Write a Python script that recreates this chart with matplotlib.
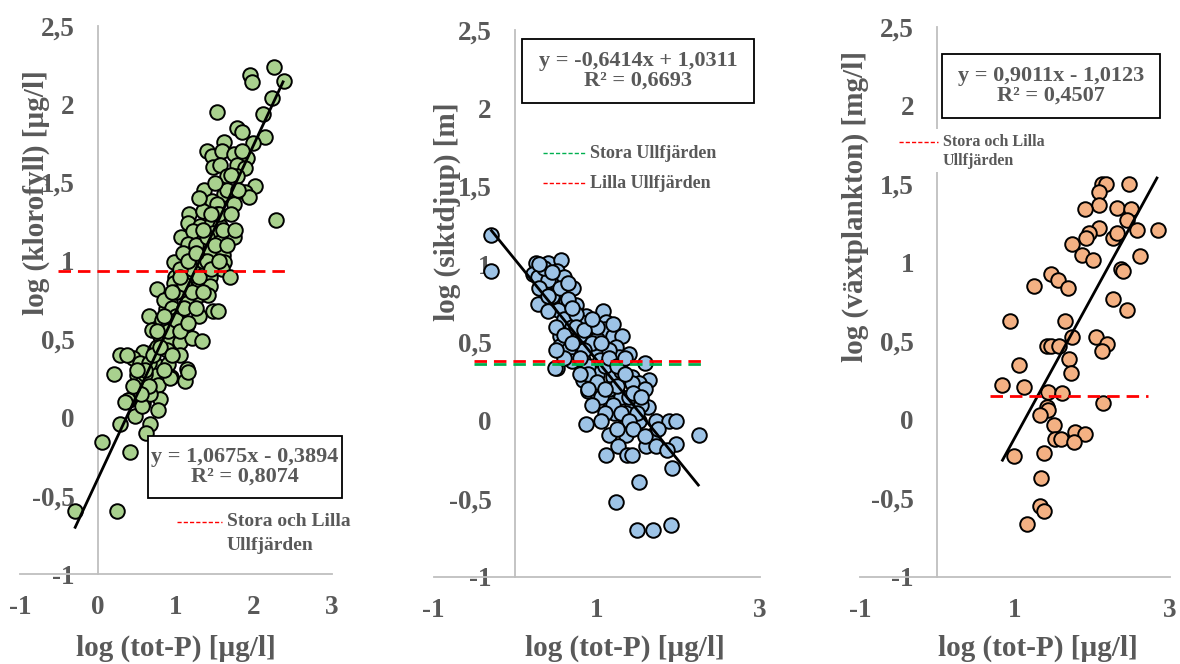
import matplotlib
matplotlib.use("Agg")
import matplotlib.pyplot as plt
from matplotlib.patches import Rectangle
from matplotlib.lines import Line2D

plt.rcParams['font.family'] = ['Liberation Serif', 'DejaVu Serif']
plt.rcParams['font.weight'] = 'bold'

W, H = 1180, 664
GREY = '#595959'
AXC = '#BFBFBF'

# ── data ──────────────────────────────────────────────────────────────────
# panel 1: log(tot-P) vs log(klorofyll)
klo_x = [2.25, 1.95, 1.97, 2.38, 2.23, 2.12, 1.53, 1.78, 1.84, 2.14, 1.99, 1.62, 1.40, 1.46,
         1.59, 1.74, 1.91, 1.48, 1.56, 1.78, 1.89, 1.65, 1.78, 2.01, 1.36, 1.61, 1.89, 1.93,
         1.46, 1.53, 1.74, 1.17, 1.35, 1.52, 2.28, 1.16, 1.31, 1.46, 1.56, 1.07, 1.22, 1.48,
         1.74, 1.16, 1.33, 1.56, 1.24, 1.44, 1.60, 0.97, 1.18, 1.31, 1.48, 1.61, 1.59, 1.69,
         0.99, 1.09, 1.29, 1.44, 0.76, 1.09, 0.97, 1.14, 1.44, 0.92, 1.14, 1.29, 1.41, 0.87,
         1.05, 0.65, 0.82, 0.97, 1.14, 1.29, 1.48, 1.54, 0.69, 0.86, 1.01, 0.80, 0.92, 1.05,
         1.20, 1.33, 0.58, 0.73, 0.88, 1.05, 0.28, 0.45, 0.54, 0.73, 0.90, 1.14, 0.21, 0.50,
         0.71, 0.94, 1.12, 0.56, 0.77, 0.40, 0.58, 0.80, 0.67, 0.77, 0.47, 0.28, 0.67, 0.62,
         0.05, 0.41, -0.30, 0.24, 0.37, 1.16, 0.92, 0.56, 0.39, 0.85, 1.00, 1.10, 0.95, 1.20,
         1.05, 1.25, 1.35, 1.00, 0.75, 0.65, 0.60, 1.40, 1.55, 1.65,
         0.70, 0.80, 0.90, 1.00, 1.10, 1.20, 1.30, 1.40, 1.50, 1.60, 1.70, 1.80, 0.75, 0.85,
         0.95, 1.05, 1.15, 1.25, 1.35, 1.45, 0.60, 0.65, 0.55, 0.50, 0.45, 0.35, 0.85, 0.95,
         1.05, 1.15, 1.25, 1.35, 1.45, 1.55, 1.65, 1.75, 1.70, 1.85, 1.50, 1.30]
klo_y = [2.24, 2.19, 2.14, 2.15, 2.04, 1.94, 1.95, 1.85, 1.82, 1.79, 1.75, 1.76, 1.70, 1.67,
         1.70, 1.68, 1.66, 1.60, 1.61, 1.61, 1.59, 1.54, 1.54, 1.48, 1.45, 1.43, 1.44, 1.41,
         1.38, 1.36, 1.36, 1.30, 1.32, 1.30, 1.26, 1.24, 1.22, 1.24, 1.22, 1.15, 1.19, 1.18,
         1.15, 1.11, 1.12, 1.12, 1.07, 1.06, 1.04, 0.99, 1.02, 0.98, 0.96, 0.99, 0.95, 0.90,
         0.90, 0.92, 0.87, 0.90, 0.82, 1.05, 0.86, 0.90, 0.84, 0.74, 0.73, 0.78, 0.78, 0.69,
         0.68, 0.65, 0.62, 0.61, 0.59, 0.65, 0.68, 0.68, 0.56, 0.56, 0.57, 0.52, 0.49, 0.48,
         0.51, 0.49, 0.42, 0.43, 0.43, 0.40, 0.40, 0.38, 0.35, 0.34, 0.34, 0.31, 0.28, 0.27,
         0.27, 0.26, 0.23, 0.22, 0.21, 0.11, 0.09, 0.12, 0.15, 0.05, 0.01, -0.04, -0.04, -0.10,
         -0.16, -0.22, -0.60, -0.60, 0.40, 0.29, 0.25, 0.07, 0.11, 0.75, 0.80, 0.85, 0.70, 0.95,
         0.95, 1.10, 1.00, 0.65, 0.45, 0.35, 0.28, 1.15, 1.30, 1.45,
         0.40, 0.45, 0.55, 0.62, 0.70, 0.80, 0.90, 1.00, 1.10, 1.20, 1.30, 1.45, 0.55, 0.65,
         0.80, 0.90, 1.00, 1.05, 1.20, 1.30, 0.30, 0.20, 0.15, 0.30, 0.20, 0.10, 0.30, 0.40,
         0.55, 0.60, 0.70, 0.80, 0.95, 1.00, 1.10, 1.20, 1.55, 1.70, 1.50, 1.40]
klo_ref_x = [-0.51, 2.46]
klo_ref_y = [0.935, 0.935]
klo_coef = (1.0675, -0.3894)
klo_eq = ["y = 1,0675x - 0,3894", "R² = 0,8074"]

# panel 2: log(tot-P) vs log(siktdjup)
sik_x = [-0.30, -0.30, 0.26, 0.40, 0.57, 0.51, 0.22, 0.28, 0.46, 0.35, 0.55, 0.71, 0.28, 0.47,
         0.63, 0.75, 0.53, 1.08, 0.87, 1.12, 0.81, 1.10, 0.67, 0.89, 1.20, 1.31, 0.55, 1.00,
         0.55, 0.73, 1.00, 1.24, 1.40, 0.51, 0.83, 1.04, 1.28, 1.59, 0.83, 1.00, 1.20, 1.30,
         1.44, 1.65, 1.52, 0.49, 0.89, 1.00, 1.16, 1.22, 1.44, 1.63, 1.44, 1.36, 0.87, 1.32,
         1.52, 1.73, 1.89, 1.97, 1.15, 1.36, 1.69, 1.26, 1.61, 1.73, 1.98, 1.12, 1.38, 1.44,
         1.87, 2.26, 1.93, 1.52, 1.24, 1.50, 1.69, 1.92, 0.60, 0.70, 0.80, 0.95, 0.65, 0.85,
         0.90, 1.10, 1.15, 1.30, 1.05, 0.95, 1.40, 1.55, 0.40, 0.35, 0.60, 0.45, 0.75, 1.00,
         1.15, 0.70, 1.25, 1.50, 1.60,
         0.30, 0.40, 0.50, 0.60, 0.70, 0.80, 0.90, 1.00, 1.10, 1.20, 1.30, 1.40, 0.45, 0.55,
         0.65, 0.75, 0.85, 0.95, 1.05, 1.15, 1.25, 1.35, 1.45, 1.55, 0.65, 0.30, 0.40, 0.60,
         0.80, 1.10, 1.25, 1.45, 1.60, 1.75, 0.90, 1.05, 1.35, 1.20, 0.50, 0.70]
sik_y = [1.19, 0.96, 1.01, 1.01, 1.03, 0.96, 0.94, 0.92, 0.88, 0.83, 0.83, 0.85, 0.75, 0.74,
         0.76, 0.74, 0.71, 0.70, 0.67, 0.63, 0.63, 0.59, 0.56, 0.54, 0.54, 0.54, 0.54, 0.52,
         0.48, 0.44, 0.45, 0.47, 0.43, 0.34, 0.39, 0.39, 0.41, 0.37, 0.26, 0.30, 0.28, 0.32,
         0.28, 0.26, 0.24, 0.34, 0.19, 0.18, 0.12, 0.05, 0.24, 0.09, 0.11, 0.05, -0.02, -0.04,
         0.00, 0.00, 0.00, 0.00, -0.09, -0.09, -0.09, -0.16, -0.16, -0.16, -0.15, -0.22, -0.22, -0.22,
         -0.19, -0.09, -0.30, -0.39, -0.52, -0.70, -0.70, -0.67, 0.65, 0.60, 0.55, 0.50, 0.45, 0.45,
         0.35, 0.35, 0.20, 0.15, 0.15, 0.10, 0.15, 0.10, 0.90, 0.98, 0.92, 0.80, 0.68, 0.60,
         0.45, 0.38, 0.22, 0.05, 0.20,
         0.85, 0.70, 0.60, 0.55, 0.50, 0.40, 0.30, 0.25, 0.20, 0.10, 0.05, 0.00, 0.95, 0.85,
         0.78, 0.60, 0.58, 0.65, 0.50, 0.40, 0.35, 0.30, 0.18, 0.15, 0.88, 1.00, 0.80, 0.40,
         0.30, 0.05, -0.05, -0.05, -0.10, -0.05, 0.20, 0.00, 0.40, 0.62, 0.45, 0.72]
sik_stora_x = [-0.50, 2.33]
sik_stora_y = [0.365, 0.365]
sik_lilla_x = [-0.50, 2.33]
sik_lilla_y = [0.38, 0.38]
sik_coef = (-0.6414, 1.0311)
sik_eq = ["y = -0,6414x + 1,0311", "R² = 0,6693"]

# panel 3: log(tot-P) vs log(växtplankton)
vax_x = [2.12, 2.18, 2.47, 2.08, 2.08, 1.90, 2.32, 2.50, 2.44, 2.08, 1.95, 1.92, 2.26, 2.31,
         2.57, 2.84, 1.74, 1.86, 2.00, 2.61, 2.37, 2.39, 1.46, 1.56, 1.69, 1.25, 2.26, 2.44,
         0.93, 1.64, 1.74, 2.04, 2.19, 2.12, 1.41, 1.47, 1.57, 1.70, 1.72, 1.05, 0.83, 1.11,
         1.43, 1.60, 2.13, 1.41, 1.42, 1.32, 1.50, 1.77, 1.90, 1.51, 1.59, 1.76, 0.99, 1.37,
         1.34, 1.32, 1.38, 1.15]
vax_y = [1.50, 1.50, 1.50, 1.45, 1.37, 1.34, 1.35, 1.34, 1.27, 1.22, 1.19, 1.16, 1.16, 1.19,
         1.21, 1.21, 1.12, 1.05, 1.02, 1.04, 0.96, 0.95, 0.93, 0.89, 0.84, 0.85, 0.77, 0.70,
         0.63, 0.63, 0.53, 0.53, 0.48, 0.44, 0.47, 0.47, 0.47, 0.39, 0.30, 0.35, 0.22, 0.21,
         0.18, 0.17, 0.11, 0.08, 0.06, 0.03, -0.03, -0.08, -0.09, -0.12, -0.12, -0.14, -0.23, -0.21,
         -0.37, -0.55, -0.58, -0.66]
vax_ref_x = [0.68, 2.71]
vax_ref_y = [0.15, 0.15]
vax_coef = (0.9011, -1.0123)
vax_eq = ["y = 0,9011x - 1,0123", "R² = 0,4507"]

y_ticks = [-1, -0.5, 0, 0.5, 1, 1.5, 2, 2.5]
y_tick_labels = ["-1", "-0,5", "0", "0,5", "1", "1,5", "2", "2,5"]
x_label = "log (tot-P) [µg/l]"


def px2fig(x, y):
    return x / W, 1 - y / H


def setup(ax, xticks):
    ax.set_xlim(-1, 3)
    ax.set_ylim(-1, 2.5)
    ax.patch.set_alpha(0)
    for s in ('top', 'right'):
        ax.spines[s].set_visible(False)
    ax.spines['left'].set_position(('data', 0))
    for s in ('left', 'bottom'):
        ax.spines[s].set_color(AXC)
        ax.spines[s].set_linewidth(1.3)
    ax.set_yticks(y_ticks)
    ax.set_yticklabels(y_tick_labels)
    ax.set_xticks(xticks)
    ax.set_xticklabels([f"{t:g}" for t in xticks])
    ax.tick_params(length=0, labelsize=19.5, labelcolor=GREY)
    ax.tick_params(axis='y', pad=17)
    ax.tick_params(axis='x', pad=15)


def trend(ax, xs, coef):
    x0, x1 = min(xs), max(xs)
    ax.plot([x0, x1], [coef[0] * x0 + coef[1], coef[0] * x1 + coef[1]],
            color='black', lw=2.0, zorder=4, solid_capstyle='butt')


def eq_box(fig, box, lines, size=16):
    l, t, r, b = box
    x0, y0 = px2fig(l, b)
    x1, y1 = px2fig(r, t)
    fig.add_artist(Rectangle((x0, y0), x1 - x0, y1 - y0, transform=fig.transFigure,
                             facecolor='white', edgecolor='black', lw=1.3, zorder=5))
    cx, cy = px2fig((l + r) / 2, (t + b) / 2)
    fig.text(cx, cy, "\n".join(lines), ha='center', va='center', fontsize=size,
             color=GREY, linespacing=1.0, zorder=6)


def legend_entry(fig, x0, x1, y, color, lines, size, dy):
    a, yy = px2fig(x0, y)
    b, _ = px2fig(x1, y)
    fig.add_artist(Line2D([a, b], [yy, yy], transform=fig.transFigure, color=color,
                          lw=1.0, dashes=(3, 1.5), zorder=6))
    for i, s in enumerate(lines):
        tx, ty = px2fig(x1 + 5, y + i * dy)
        fig.text(tx, ty, s, ha='left', va='center', fontsize=size, color=GREY, zorder=6)


fig = plt.figure(figsize=(W / 100, H / 100), dpi=100)

scat = dict(edgecolors='black', linewidths=1.4, s=110, zorder=3)
dash = dict(lw=2.0, dashes=(4.5, 2.5), zorder=5)

# panel 1
ax1 = fig.add_axes([20 / W, (H - 574) / H, 312 / W, 548 / H])
setup(ax1, [-1, 0, 1, 2, 3])
ax1.scatter(klo_x, klo_y, color='#A9D18E', **scat)
trend(ax1, klo_x, klo_coef)
ax1.plot(klo_ref_x, klo_ref_y, color='#FF0000', **dash)

# panel 2
ax2 = fig.add_axes([433.5 / W, (H - 577) / H, 326 / W, 547 / H])
setup(ax2, [-1, 1, 3])
ax2.scatter(sik_x, sik_y, color='#9DC3E6', **scat)
trend(ax2, sik_x, sik_coef)
ax2.plot(sik_stora_x, sik_stora_y, color='#00B050', **dash)
ax2.plot(sik_lilla_x, sik_lilla_y, color='#FF0000', **dash)

# panel 3
ax3 = fig.add_axes([860 / W, (H - 577) / H, 310 / W, 550 / H])
setup(ax3, [-1, 1, 3])
ax3.scatter(vax_x, vax_y, color='#F4B183', **scat)
trend(ax3, vax_x, vax_coef)
ax3.plot(vax_ref_x, vax_ref_y, color='#FF0000', **dash)

# axis titles
for cx in (176, 625, 1038):
    x, y = px2fig(cx, 648)
    fig.text(x, y, x_label, ha='center', va='center', fontsize=21, color=GREY)
for cx, cy, s in ((36, 193, "log (klorofyll) [µg/l]"),
                  (447, 212, "log (siktdjup) [m]"),
                  (855, 206, "log (växtplankton) [mg/l]")):
    x, y = px2fig(cx, cy)
    fig.text(x, y, s, ha='center', va='center', rotation=90, fontsize=21, color=GREY)

# equation boxes
eq_box(fig, (148, 436, 342, 498), klo_eq)
eq_box(fig, (522, 39, 754, 103), sik_eq)
eq_box(fig, (942, 54, 1160, 118), vax_eq)

# legends
legend_entry(fig, 177, 222, 522, '#FF0000', ["Stora och Lilla", "Ullfjärden"], 14, 23)
legend_entry(fig, 543, 585, 153, '#00B050', ["Stora Ullfjärden"], 13, 0)
legend_entry(fig, 543, 585, 183, '#FF0000', ["Lilla Ullfjärden"], 13, 0)
lx0, ly0 = px2fig(893, 172)
lx1, ly1 = px2fig(1055, 129)
fig.add_artist(Rectangle((lx0, ly0), lx1 - lx0, ly1 - ly0, transform=fig.transFigure,
                         facecolor='white', edgecolor='none', zorder=5))
legend_entry(fig, 899, 938, 142, '#FF0000', ["Stora och Lilla", "Ullfjärden"], 11.5, 19)

fig.savefig("out.png", dpi=100)
